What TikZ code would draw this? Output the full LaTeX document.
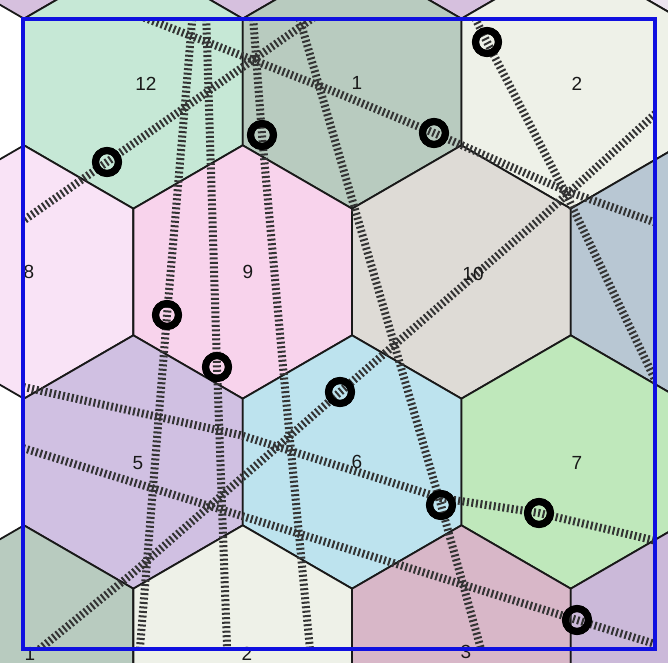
\documentclass[tikz,border=0pt]{standalone}
\usepackage{fontspec}
\setmainfont{Liberation Sans}
\definecolor{cTop}{HTML}{D6C0DE}
\definecolor{cTopR}{HTML}{ECE4F0}
\definecolor{cTwelve}{HTML}{C6E8D6}
\definecolor{cOne}{HTML}{B8CBBF}
\definecolor{cTwo}{HTML}{EEF1E8}
\definecolor{cEight}{HTML}{F9E3F6}
\definecolor{cNine}{HTML}{F8D3EC}
\definecolor{cTen}{HTML}{DEDBD6}
\definecolor{cEleven}{HTML}{B8C7D3}
\definecolor{cFive}{HTML}{D0C0E2}
\definecolor{cSix}{HTML}{BDE3EE}
\definecolor{cSeven}{HTML}{BFE8BB}
\definecolor{cThree}{HTML}{D8B7C8}
\definecolor{cFour}{HTML}{CBB9D9}
\definecolor{frameblue}{HTML}{1010E0}
\newcommand{\hexat}[3]{%
  \filldraw[hexcell,fill=#3] (#1,#2-126.67) -- (#1+109.35,#2-63.33) -- (#1+109.35,#2+63.33)
    -- (#1,#2+126.67) -- (#1-109.35,#2+63.33) -- (#1-109.35,#2-63.33) -- cycle;}
\tikzset{
  hexcell/.style={draw=black!90, line width=1.8pt, line join=round},
  trackline/.style={draw=black!80, line width=8pt, dash pattern=on 2pt off 2.5pt},
  ring/.style={circle, draw=black, line width=7pt, minimum size=23pt, inner sep=0pt},
  hexlabel/.style={font=\fontsize{19}{21}\selectfont, text=black!90, inner sep=0pt},
  frame/.style={draw=frameblue, line width=4pt}
}
\begin{document}
\begin{tikzpicture}[x=1pt,y=-1pt]
\useasboundingbox (0,0) rectangle (668,662);
% hex cells
\begin{scope}
\clip (0,0) rectangle (668,662);
\hexat{24}{-108}{cTop}
\hexat{242.7}{-108}{cTop}
\hexat{461.4}{-108}{cTop}
\hexat{680.1}{-108}{cTopR}
\hexat{133.35}{82}{cTwelve}
\hexat{352.05}{82}{cOne}
\hexat{570.75}{82}{cTwo}
\hexat{24}{272}{cEight}
\hexat{242.7}{272}{cNine}
\hexat{461.4}{272}{cTen}
\hexat{680.1}{272}{cEleven}
\hexat{133.35}{462}{cFive}
\hexat{352.05}{462}{cSix}
\hexat{570.75}{462}{cSeven}
\hexat{24}{652}{cOne}
\hexat{242.7}{652}{cTwo}
\hexat{461.4}{652}{cThree}
\hexat{680.1}{652}{cFour}
\end{scope}
% rings (mobile nodes), placed first so that tracks can be laid through their centres
\node[ring] (r1) at (487,42) {};
\node[ring] (r2) at (434,133) {};
\node[ring] (r3) at (262,135) {};
\node[ring] (r4) at (107,162) {};
\node[ring] (r5) at (167,315) {};
\node[ring] (r6) at (217,367) {};
\node[ring] (r7) at (340,392) {};
\node[ring] (r8) at (441,505) {};
\node[ring] (r9) at (539,513) {};
\node[ring] (r10) at (577,620) {};
% waypoints
\coordinate (a0) at (10,230);  \coordinate (a1) at (320,13);
\coordinate (b0) at (140,16);  \coordinate (b1) at (330,90);  \coordinate (b2) at (564,190); \coordinate (b3) at (665,226);
\coordinate (c0) at (36,652);  \coordinate (c1) at (133,573); \coordinate (c2) at (541,218); \coordinate (c3) at (665,105);
\coordinate (p0) at (193,10);  \coordinate (p1) at (139,660);
\coordinate (q0) at (206,10);  \coordinate (q1) at (227.5,660);
\coordinate (s0) at (252.5,10); \coordinate (s1) at (283,367); \coordinate (s2) at (311,660);
\coordinate (t0) at (297,10);  \coordinate (t1) at (484,660);
\coordinate (u0) at (471,10);  \coordinate (u1) at (568,198); \coordinate (u2) at (660,390);
\coordinate (d0) at (10,384);  \coordinate (d1) at (240,435); \coordinate (d2) at (441,498); \coordinate (d3) at (665,543);
\coordinate (e0) at (10,444);  \coordinate (e1) at (665,647);
% tracks
\begin{scope}
\clip (23,19) rectangle (655,649);
\draw[trackline] (a0) -- (r4.center) -- (a1);
\draw[trackline] (b0) -- (b1) -- (r2.center) -- (b2) -- (b3);
\draw[trackline] (c0) -- (c1) -- (r7.center) -- (c2) -- (c3);
\draw[trackline] (p0) -- (r5.center) -- (p1);
\draw[trackline] (q0) -- (r6.center) -- (q1);
\draw[trackline] (s0) -- (r3.center) -- (s1) -- (s2);
\draw[trackline] (t0) -- (r8.center) -- (t1);
\draw[trackline] (u0) -- (r1.center) -- (u1) -- (u2);
\draw[trackline] (d0) -- (d1) -- (d2) -- (r9.center) -- (d3);
\draw[trackline] (e0) -- (r10.center) -- (e1);
\end{scope}
% redraw rings on top of tracks
\foreach \r in {r1,r2,r3,r4,r5,r6,r7,r8,r9,r10}
  \draw[black, line width=7pt] (\r.center) circle[radius=11.5pt];
% labels
\node[hexlabel] (l12) at (146,84) {12};
\node[hexlabel] (l1) at (357,83) {1};
\node[hexlabel] (l2) at (577,84) {2};
\node[hexlabel] (l8) at (29,272) {8};
\node[hexlabel] (l9) at (248,272) {9};
\node[hexlabel] (l10) at (473,274) {10};
\node[hexlabel] (l5) at (138,463) {5};
\node[hexlabel] (l6) at (357,462) {6};
\node[hexlabel] (l7) at (577,463) {7};
\node[hexlabel] (lb1) at (30,654) {1};
\node[hexlabel] (lb2) at (247,654) {2};
\node[hexlabel] (lb3) at (466,652) {3};
% frame
\draw[frame] (23,19) rectangle (655,649);
\end{tikzpicture}
\end{document}
